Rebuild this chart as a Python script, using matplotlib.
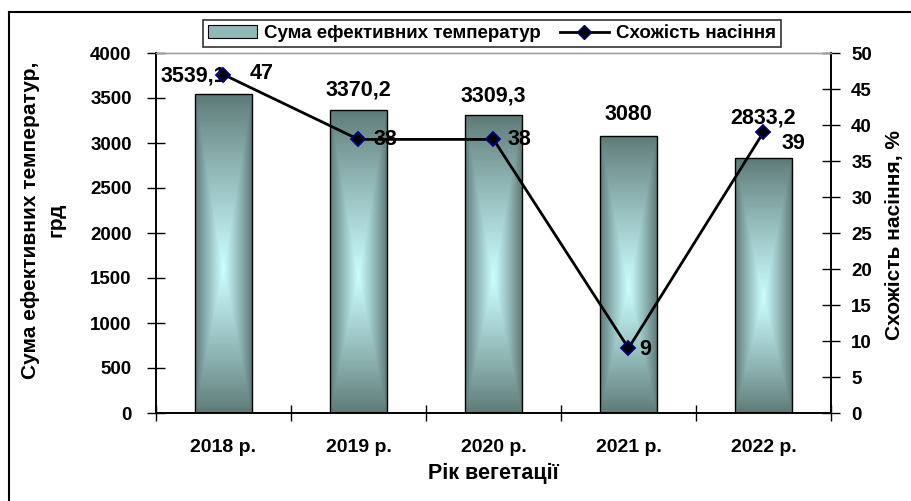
import matplotlib
matplotlib.use("Agg")
import matplotlib.pyplot as plt
import numpy as np
from matplotlib.patches import Rectangle, Patch
from matplotlib.lines import Line2D

# ---------------- data ----------------
years = ["2018 р.", "2019 р.", "2020 р.", "2021 р.", "2022 р."]
temp_sum = [3539.1, 3370.2, 3309.3, 3080, 2833.2]
temp_labels = ["3539,1", "3370,2", "3309,3", "3080", "2833,2"]
germination = [47, 38, 38, 9, 39]
left_ticks = [0, 500, 1000, 1500, 2000, 2500, 3000, 3500, 4000]
right_ticks = [0, 5, 10, 15, 20, 25, 30, 35, 40, 45, 50]

# label offsets (points) - styling only
bar_lbl_off = [(-22, 13), (0, 14), (0, 14), (0, 15), (0, 29)]
line_lbl_off = [(19, 1), (11, 0), (10, 0), (8, -1), (13, -8)]

FONT = "Liberation Sans"
plt.rcParams["font.family"] = [FONT, "DejaVu Sans"]
plt.rcParams["font.weight"] = "bold"

fig = plt.figure(figsize=(9.12, 5.01), dpi=100)
ax = fig.add_axes([156/912, 1-413/501, (831-156)/912, (413-53)/501])
ax2 = ax.twinx()

x = np.arange(len(years))
bw = 0.415

ax.set_xlim(-0.5, len(years)-0.5)
ax.set_ylim(0, 4000)
ax2.set_ylim(0, 50)

# gradient bars
dark = np.array([0x5c, 0x78, 0x76]) / 255.0
light = np.array([0xcc, 0xff, 0xff]) / 255.0
ny, nx = 200, 60
yy, xx = np.mgrid[0:ny, 0:nx]
u = np.abs((xx + 0.5) / nx - 0.5) / 0.5
v_frac = (yy + 0.5) / ny  # 0 = bottom (origin lower)
cy = 0.45
v = np.where(v_frac >= cy, (v_frac - cy) / (1 - cy), (cy - v_frac) / cy)
t = np.maximum(u, v)
w = (1 - t) ** 0.9
img = dark[None, None, :] * (1 - w[..., None]) + light[None, None, :] * w[..., None]

bars = ax.bar(x, temp_sum, width=bw, facecolor="none", edgecolor="black", linewidth=1.0, zorder=3)
for b in bars:
    x0, y0 = b.get_x(), b.get_y()
    ww, hh = b.get_width(), b.get_height()
    im = ax.imshow(img, extent=[x0, x0+ww, y0, y0+hh], origin="lower",
                   aspect="auto", zorder=2, interpolation="bilinear")
    im.set_clip_path(Rectangle((x0, y0), ww, hh, transform=ax.transData))
ax.set_xlim(-0.5, len(years)-0.5)
ax.set_ylim(0, 4000)

for i, (val, lbl) in enumerate(zip(temp_sum, temp_labels)):
    ax.annotate(lbl, (x[i], val), xytext=bar_lbl_off[i], textcoords="offset points",
                ha="center", va="center", fontsize=15.5, fontweight="bold", zorder=5)

# line
ax2.plot(x, germination, color="black", linewidth=2.0, marker="D", markersize=7.5,
         markerfacecolor="black", markeredgecolor="#000080", markeredgewidth=1.3, zorder=4)
for i, val in enumerate(germination):
    ax2.annotate(str(val), (x[i], val), xytext=line_lbl_off[i], textcoords="offset points",
                 ha="left", va="center", fontsize=15.5, fontweight="bold", zorder=5)

# axes styling
ax.set_xticks(np.arange(len(years)+1) - 0.5, minor=False)
ax.set_xticklabels([])
ax.set_xticks(x, minor=True)
ax.set_xticklabels(years, minor=True, fontsize=14, fontweight="bold")
ax.tick_params(axis="x", which="major", direction="inout", length=12, width=1)
ax.tick_params(axis="x", which="minor", length=0, pad=19)

ax.set_yticks(left_ticks)
ax.set_yticklabels([str(v) for v in left_ticks], fontsize=13.5, fontweight="bold")
ax.tick_params(axis="y", direction="inout", length=13, width=1, pad=11)
ax2.set_yticks(right_ticks)
ax2.set_yticklabels([str(v) for v in right_ticks], fontsize=13.5, fontweight="bold")
ax2.tick_params(axis="y", direction="inout", length=13, width=1, pad=8)

for a in (ax, ax2):
    a.spines["top"].set_color("#a0a0a0")
    a.spines["top"].set_linewidth(1.0)
    for s in ("left", "right", "bottom"):
        a.spines[s].set_color("black")
        a.spines[s].set_linewidth(1.2)

fig.text(43/912, 1-220/501, "Сума ефективних температур,\nгрд", rotation=90,
         ha="center", va="center", multialignment="center", fontsize=15, fontweight="bold",
         linespacing=1.45)
fig.text(895/912, 1-235/501, "Схожість насіння, %", rotation=90,
         ha="center", va="center", fontsize=15, fontweight="bold")
fig.text(493/912, 1-473/501, "Рік вегетації", ha="center", va="center",
         fontsize=15.5, fontweight="bold")

# legend
handles = [Patch(facecolor="#8fb8b6", edgecolor="black", linewidth=0.8),
           Line2D([0], [0], color="black", linewidth=2, marker="D", markersize=7,
                  markerfacecolor="black", markeredgecolor="#000080")]
leg = fig.legend(handles, ["Сума ефективних температур", "Схожість насіння"],
                 loc="center", bbox_to_anchor=(492/912, 1-33.5/501), ncol=2,
                 frameon=True, fancybox=False, edgecolor="black",
                 prop={"weight": "bold", "size": 13.5}, handlelength=2.6,
                 handletextpad=0.4, columnspacing=1.0, borderpad=0.25,
                 handleheight=0.7)
leg.get_frame().set_linewidth(1.2)

# outer border (top and left)
fig.add_artist(Line2D([9/912, 9/912], [0, 1-12/501], color="black", linewidth=1.5,
                      transform=fig.transFigure))
fig.add_artist(Line2D([9/912, 1], [1-12/501, 1-12/501], color="black", linewidth=1.5,
                      transform=fig.transFigure))

fig.savefig("out.png", dpi=100)
